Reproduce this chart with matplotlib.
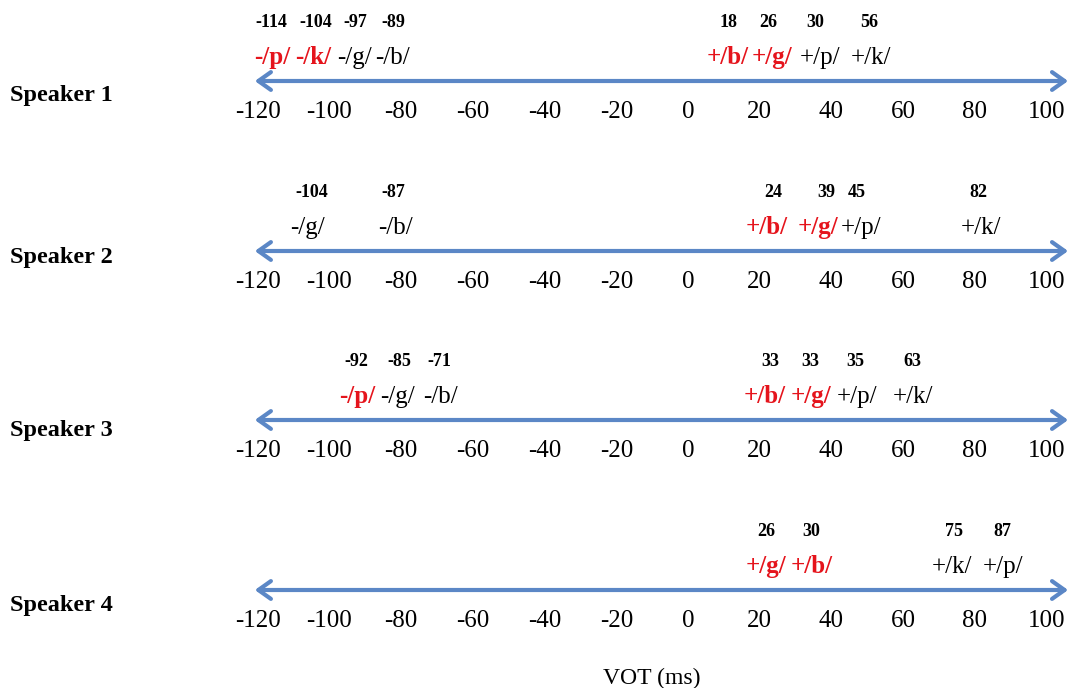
import matplotlib
matplotlib.use('Agg')
import matplotlib.pyplot as plt

# ---------------- data ----------------
speakers = ['Speaker 1', 'Speaker 2', 'Speaker 3', 'Speaker 4']

s1_labels = ['-/p/', '-/k/', '-/g/', '-/b/', '+/b/', '+/g/', '+/p/', '+/k/']
s1_vot = [-114, -104, -97, -89, 18, 26, 30, 56]
s1_red = [True, True, False, False, True, True, False, False]

s2_labels = ['-/g/', '-/b/', '+/b/', '+/g/', '+/p/', '+/k/']
s2_vot = [-104, -87, 24, 39, 45, 82]
s2_red = [False, False, True, True, False, False]

s3_labels = ['-/p/', '-/g/', '-/b/', '+/b/', '+/g/', '+/p/', '+/k/']
s3_vot = [-92, -85, -71, 33, 33, 35, 63]
s3_red = [True, False, False, True, True, False, False]

s4_labels = ['+/g/', '+/b/', '+/k/', '+/p/']
s4_vot = [26, 30, 75, 87]
s4_red = [True, True, False, False]

ticks = [-120, -100, -80, -60, -40, -20, 0, 20, 40, 60, 80, 100]
x_title = 'VOT (ms)'

# ---------------- layout (text box positions, in ms units) ----------------
s1_num_x = [-116.3, -103.7, -92.9, -82.3, 11.4, 22.3, 35.4, 50.5]
s1_lab_x = [-115.9, -104.6, -93.1, -82.5, 11.2, 23.4, 36.8, 51.0]
s2_num_x = [-104.9, -82.3, 23.7, 38.5, 47.1, 80.9]
s2_lab_x = [-106.0, -81.7, 22.0, 36.3, 48.2, 81.7]
s3_num_x = [-92.6, -80.6, -69.4, 22.9, 34.0, 46.6, 62.7]
s3_lab_x = [-92.3, -80.9, -68.9, 21.5, 34.3, 47.1, 62.7]
s4_num_x = [21.8, 34.3, 74.2, 87.6]
s4_lab_x = [21.8, 34.6, 73.6, 87.8]

rows = [
    (s1_labels, s1_vot, s1_red, s1_num_x, s1_lab_x),
    (s2_labels, s2_vot, s2_red, s2_num_x, s2_lab_x),
    (s3_labels, s3_vot, s3_red, s3_num_x, s3_lab_x),
    (s4_labels, s4_vot, s4_red, s4_num_x, s4_lab_x),
]

W, H = 1070, 688
PX_PER_MS = 3.586
ZERO_PX = 688
XLIM = (-ZERO_PX / PX_PER_MS, (W - ZERO_PX) / PX_PER_MS)
ARROW_SPAN = (-120.8, 106.0)
arrow_y_px = [81, 251, 420, 590]
speaker_baseline_px = [101, 263, 436, 611]
AX_H = 65

RED = '#e5141c'
BLUE = '#5b87c6'
SERIF = ['Liberation Serif', 'DejaVu Serif']

plt.rcParams['font.family'] = SERIF
plt.rcParams['axes.unicode_minus'] = False

fig = plt.figure(figsize=(W / 100, H / 100), dpi=100)
fig.patch.set_facecolor('white')

for i, (labels, vots, reds, num_x, lab_x) in enumerate(rows):
    ay = arrow_y_px[i]
    ax = fig.add_axes([0, (H - ay) / H, 1, AX_H / H])
    ax.set_xlim(*XLIM)
    ax.set_ylim(0, AX_H)
    ax.patch.set_visible(False)
    for sp in ax.spines.values():
        sp.set_visible(False)
    ax.set_yticks([])
    ax.set_xticks(ticks)
    ax.set_xticklabels([str(t) for t in ticks])
    ax.tick_params(axis='x', length=0, pad=14.5, labelsize=18)

    ax.annotate('', xy=(ARROW_SPAN[0], 0), xytext=(ARROW_SPAN[1], 0),
                xycoords='data', textcoords='data',
                arrowprops=dict(arrowstyle='<->,head_length=0.45,head_width=0.32',
                                color=BLUE, lw=3.0, shrinkA=0, shrinkB=0,
                                mutation_scale=20, capstyle='round'),
                annotation_clip=False)

    for lab, v, r, nx, lx in zip(labels, vots, reds, num_x, lab_x):
        ax.text(lx, 17, lab, ha='center', va='baseline', fontsize=18,
                color=RED if r else 'black',
                fontweight='bold' if r else 'normal', clip_on=False)
        ax.text(nx, 54, str(v), ha='center', va='baseline', fontsize=13,
                fontweight='bold', color='black', clip_on=False)

    fig.text(10 / W, 1 - speaker_baseline_px[i] / H, speakers[i], ha='left',
             va='baseline', fontsize=17.5, fontweight='bold')

fig.text(652 / W, 1 - 684 / H, x_title, ha='center', va='baseline', fontsize=17)

fig.savefig('out.png', dpi=100, facecolor='white')
